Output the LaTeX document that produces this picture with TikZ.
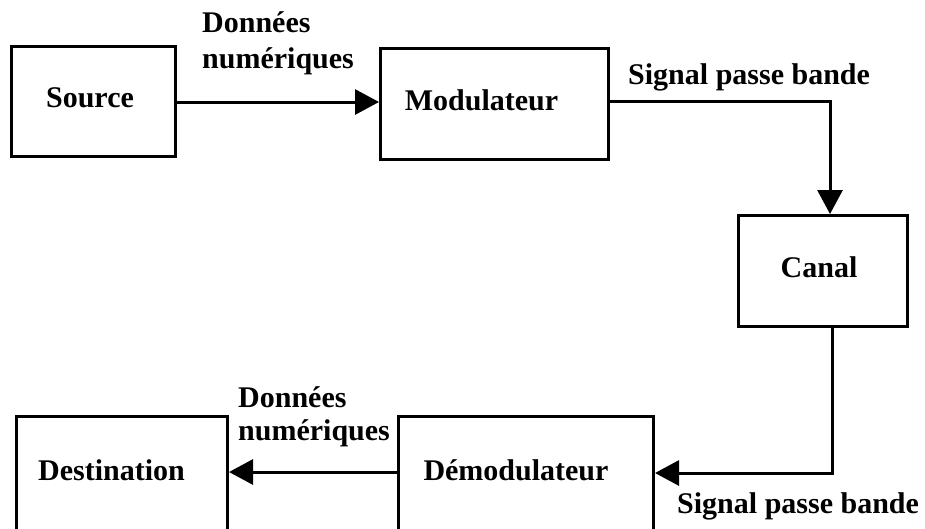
\documentclass[tikz,border=0pt]{standalone}
\usepackage{fontspec}
\setmainfont{Liberation Serif}
\usetikzlibrary{arrows.meta}

\tikzset{
  block/.style={draw, line width=3pt, inner sep=0pt, anchor=base,
                font=\fontsize{30}{36}\selectfont\bfseries},
  flow/.style={line width=3pt, -{Triangle[length=24pt, width=25pt]}},
  tag/.style={inner sep=0pt, align=left, anchor=base west,
              font=\fontsize{30}{36}\selectfont\bfseries},
}

\begin{document}
\begin{tikzpicture}[x=1pt, y=-1pt]
  \useasboundingbox (0,0) rectangle (925,528);
  \clip (0,0) rectangle (925,528);

  % blocks (placed by text baseline; height/depth give the frame)
  \node[block, minimum width=164pt, text height=60.5pt, text depth=49.5pt]
    (src) at (93.5,107) {Source\kern7pt};
  \node[block, minimum width=228pt, text height=61.5pt, text depth=49pt]
    (mod) at (494.5,110) {Modulateur\kern26pt};
  \node[block, minimum width=169pt, text height=61.5pt, text depth=49.5pt]
    (canal) at (823,277) {Canal\kern8pt};
  \node[block, minimum width=211pt, text height=63.5pt, text depth=70pt]
    (dest) at (122,480) {Destination\kern21pt};
  \node[block, minimum width=255pt, text height=63.5pt, text depth=70pt]
    (demod) at (526,480) {Démodulateur\kern20pt};

  % routing points
  \coordinate (toprow) at (0,102);
  \coordinate (topbend) at (830,101);
  \coordinate (lowbend) at (832,473);
  \coordinate (lowrow) at (0,472);

  % connectors
  \draw[flow] (src.east |- toprow) -- (mod.west |- toprow);
  \draw[flow] (mod.east |- topbend) -- (topbend) -- (canal.north -| topbend);
  \draw[flow] (canal.south -| lowbend) -- (lowbend) -- (demod.east |- lowbend);
  \draw[flow] (demod.west |- lowrow) -- (dest.east |- lowrow);

  % labels (base anchor sits on the last line)
  \node[tag] (lbl1) at (202,68) {Données\\numériques};
  \node[tag] (lbl2) at (628,84) {Signal passe bande};
  \node[tag, font=\fontsize{30}{33}\selectfont\bfseries] (lbl3) at (238,440) {Données\\numériques};
  \node[tag] (lbl4) at (677,513) {Signal passe bande};
\end{tikzpicture}
\end{document}
